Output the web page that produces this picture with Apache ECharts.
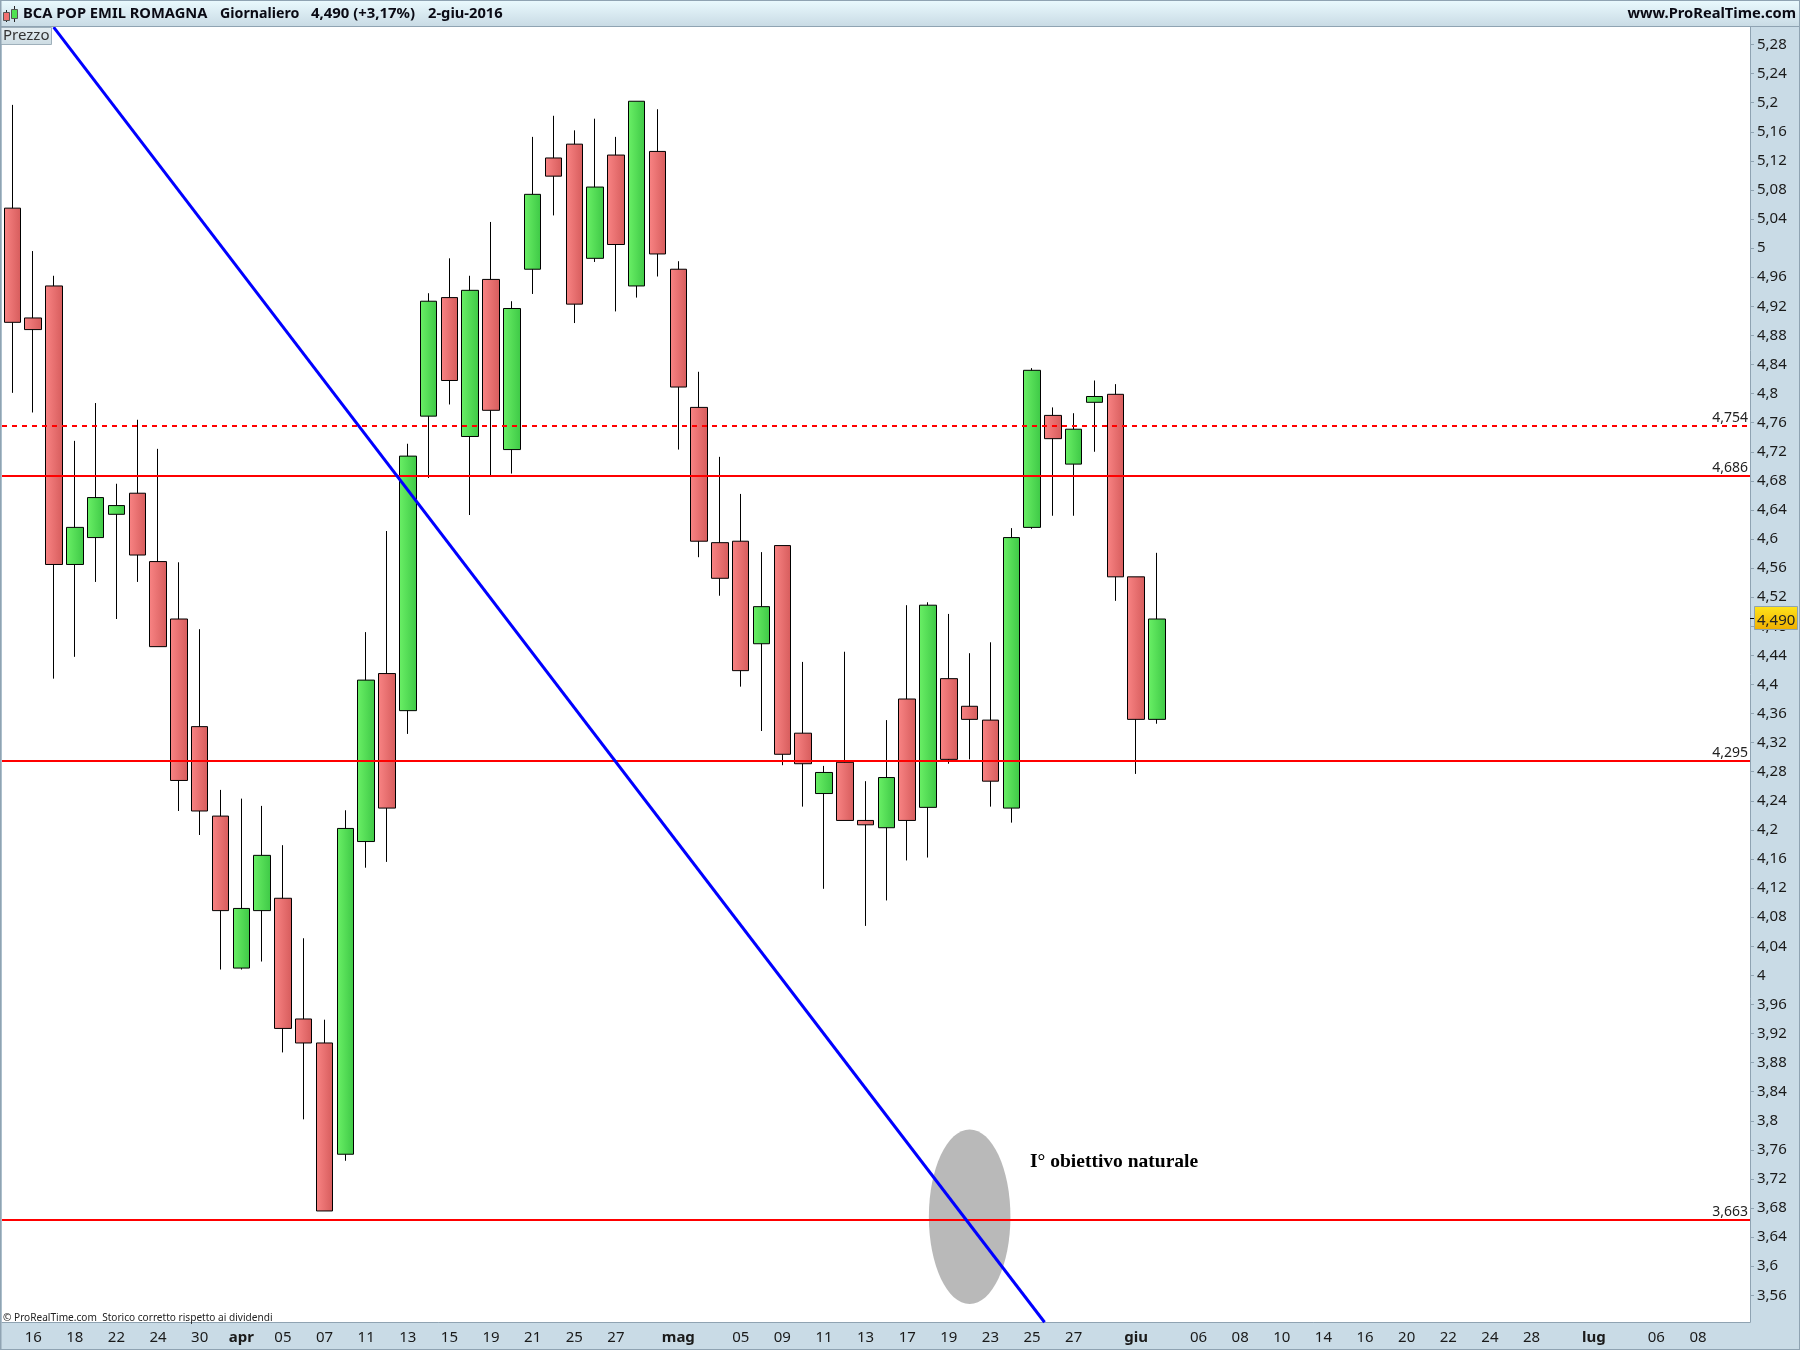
<!DOCTYPE html>
<html>
<head>
<meta charset="utf-8">
<title>BCA POP EMIL ROMAGNA</title>
<script src="https://cdn.jsdelivr.net/npm/echarts@6/dist/echarts.min.js"></script>
<style>
	html, body { margin: 0; padding: 0; background: #c9dbe6; }
	#chart { width: 1800px; height: 1350px; }
</style>
</head>
<body>
<div id="chart"></div>
<script>
	// daily candles
	const opens = [5.055, 4.904, 4.948, 4.565, 4.602, 4.634, 4.663, 4.569, 4.490, 4.342,
		4.219, 4.010, 4.089, 4.106, 3.940, 3.907, 3.754, 4.184, 4.415, 4.364,
		4.769, 4.932, 4.741, 4.957, 4.723, 4.971, 5.124, 5.143, 4.986, 5.128,
		4.948, 5.133, 4.971, 4.781, 4.595, 4.597, 4.456, 4.591, 4.333, 4.250,
		4.293, 4.213, 4.203, 4.380, 4.231, 4.408, 4.370, 4.351, 4.230, 4.616,
		4.770, 4.703, 4.788, 4.799, 4.548, 4.352]
	const closes = [4.898, 4.888, 4.565, 4.616, 4.657, 4.646, 4.578, 4.452, 4.268, 4.226,
		4.089, 4.092, 4.165, 3.927, 3.907, 3.676, 4.202, 4.406, 4.230, 4.714,
		4.927, 4.818, 4.942, 4.777, 4.917, 5.074, 5.099, 4.923, 5.084, 5.005,
		5.202, 4.992, 4.809, 4.597, 4.546, 4.419, 4.507, 4.304, 4.291, 4.279,
		4.213, 4.207, 4.272, 4.213, 4.509, 4.297, 4.352, 4.267, 4.602, 4.832,
		4.738, 4.751, 4.796, 4.548, 4.352, 4.490]
	const lows = [4.801, 4.774, 4.408, 4.438, 4.541, 4.490, 4.541, 4.452, 4.226, 4.193,
		4.008, 4.008, 4.019, 3.894, 3.802, 3.676, 3.745, 4.148, 4.156, 4.332,
		4.684, 4.785, 4.633, 4.688, 4.690, 4.937, 5.045, 4.897, 4.981, 4.913,
		4.932, 4.961, 4.723, 4.575, 4.522, 4.397, 4.336, 4.289, 4.232, 4.119,
		4.213, 4.068, 4.103, 4.158, 4.162, 4.291, 4.297, 4.232, 4.210, 4.614,
		4.632, 4.632, 4.720, 4.515, 4.277, 4.346]
	const highs = [5.197, 4.996, 4.962, 4.735, 4.787, 4.676, 4.764, 4.724, 4.568, 4.476,
		4.255, 4.243, 4.233, 4.179, 4.051, 3.939, 4.227, 4.472, 4.611, 4.731,
		4.938, 4.986, 4.962, 5.036, 4.927, 5.153, 5.182, 5.162, 5.178, 5.153,
		5.202, 5.191, 4.982, 4.830, 4.713, 4.662, 4.582, 4.591, 4.431, 4.288,
		4.445, 4.267, 4.351, 4.509, 4.513, 4.497, 4.443, 4.458, 4.615, 4.835,
		4.781, 4.773, 4.818, 4.813, 4.548, 4.581]

	// time axis: bar index of each label (the axis runs on past the last candle)
	const barSlots = 84
	const xTickBars = [1, 3, 5, 7, 9, 11, 13, 15, 17, 19, 21, 23, 25, 27, 29, 32, 35, 37, 39, 41, 43, 45, 47, 49, 51,
		54, 57, 59, 61, 63, 65, 67, 69, 71, 73, 76, 79, 81]
	const xTickLabels = ['16', '18', '22', '24', '30', 'apr', '05', '07', '11', '13', '15', '19', '21', '25', '27', 'mag',
		'05', '09', '11', '13', '17', '19', '23', '25', '27', 'giu', '06', '08', '10', '14', '16', '20', '22', '24', '28',
		'lug', '06', '08']
	const monthLabels = ['apr', 'mag', 'giu', 'lug']

	const yTicks = [5.28, 5.24, 5.2, 5.16, 5.12, 5.08, 5.04, 5, 4.96, 4.92, 4.88, 4.84, 4.8, 4.76, 4.72, 4.68, 4.64, 4.6,
		4.56, 4.52, 4.48, 4.44, 4.4, 4.36, 4.32, 4.28, 4.24, 4.2, 4.16, 4.12, 4.08, 4.04, 4, 3.96, 3.92, 3.88, 3.84, 3.8,
		3.76, 3.72, 3.68, 3.64, 3.6, 3.56]

	// horizontal levels and the drawn trend line
	const levelPrices = [4.756, 4.687, 4.295, 3.664]
	const levelTexts = ['4,754', '4,686', '4,295', '3,663']
	const levelDashed = [true, false, false, false]
	const trendBars = [1.98, 49.6]
	const trendPrices = [5.304, 3.523]

	// grey target ellipse: centre bar, centre price, half width in bars, half height in price
	const targetEllipse = [46.0, 3.668, 1.96, 0.12]

	const AXIS_BG = '#c9dbe6'
	const EDGE = '#8fa3b2'
	const UI_FONT = '"Noto Sans", sans-serif'

	const categories = []
	for (let i = 0; i < barSlots; i++) {
		const k = xTickBars.indexOf(i)
		categories.push(k >= 0 ? xTickLabels[k] : '')
	}
	const candles = opens.map((o, i) => [o, closes[i], lows[i], highs[i]])
	const hasTick = (i) => xTickBars.indexOf(i) >= 0

	const bodyGreen = new echarts.graphic.LinearGradient(0, 0, 1, 0, [
		{ offset: 0, color: '#6af066' }, { offset: 1, color: '#3ec846' }
	])
	const bodyRed = new echarts.graphic.LinearGradient(0, 0, 1, 0, [
		{ offset: 0, color: '#f98484' }, { offset: 1, color: '#d65c5c' }
	])

	function label(text, x, y, size, weight, align, color, family) {
		return {
			type: 'text', x: x, y: y, z: 100, silent: true,
			style: {
				text: text, fontSize: size, fontWeight: weight || 'normal', fontFamily: family || UI_FONT,
				fill: color || '#0a0a14', align: align || 'left', verticalAlign: 'middle'
			}
		}
	}

	function box(x, y, w, h, fill, stroke) {
		return {
			type: 'rect', x: x, y: y, z: 90, silent: true,
			shape: { x: 0, y: 0, width: w, height: h },
			style: { fill: fill, stroke: stroke || null, lineWidth: stroke ? 1 : 0 }
		}
	}

	const vertical = (a, b) => new echarts.graphic.LinearGradient(0, 0, 0, 1, [
		{ offset: 0, color: a }, { offset: 1, color: b }
	])

	const furniture = [
		// title bar
		box(0, 0, 1800, 27, vertical('#eafafe', '#c8dae4')),
		box(0, 26, 1800, 1, EDGE),
		box(0, 0, 1800, 1, EDGE),
		// small candle icon
		box(6, 10, 1, 12, '#222'),
		box(3.5, 12.5, 6, 8, '#f07070', '#555'),
		box(14, 6, 1, 16, '#222'),
		box(11.5, 9.5, 6, 9, '#50e050', '#555'),
		label('BCA POP EMIL ROMAGNA', 23, 13.5, 14.7, 'bold'),
		label('Giornaliero', 220, 13.5, 14.2, 'bold'),
		label('4,490 (+3,17%)', 311, 13.5, 14.9, 'bold'),
		label('2-giu-2016', 428, 13.5, 14.7, 'bold'),
		label('www.ProRealTime.com', 1796, 13.5, 14.7, 'bold', 'right'),
		// tab in the corner of the price panel
		box(0.5, 27.5, 51, 17, vertical('#e6eff3', '#ccdbe2'), '#9fb0bb'),
		label('Prezzo', 3, 36, 15, 'normal', 'left', '#333'),
		// frame
		box(0, 0, 1.5, 1350, EDGE),
		box(0, 1349, 1800, 1, EDGE),
		box(1799, 0, 1, 1350, EDGE),
		// last price tag
		box(1750, 618, 5, 1, '#000'),
		box(1754.5, 606.5, 43, 23, vertical('#ffe41c', '#eeae00'), EDGE),
		label('4,490', 1757, 621, 15, 'normal', 'left', '#222'),
		// notes on the chart
		label('I° obiettivo naturale', 1030, 1162, 19.5, 'bold', 'left', '#000', '"Liberation Serif", serif'),
		label('© ProRealTime.com  Storico corretto rispetto ai dividendi', 3, 1318, 10.1, 'normal', 'left', '#222')
	]

	const chartInstance = echarts.init(document.getElementById('chart'), null, { renderer: 'canvas' })

	const option = {
		animation: false,
		backgroundColor: AXIS_BG,
		graphic: { elements: furniture },
		grid: {
			left: 2, right: 50, top: 27, bottom: 28,
			show: true, backgroundColor: '#fff', borderWidth: 0
		},
		xAxis: [{
			type: 'category',
			data: categories,
			boundaryGap: true,
			axisLine: { onZero: false, lineStyle: { color: EDGE, width: 1 } },
			axisTick: {
				alignWithLabel: true, length: 4, interval: hasTick,
				lineStyle: { color: EDGE }
			},
			axisLabel: {
				interval: hasTick, margin: 8, hideOverlap: false,
				fontSize: 15, fontFamily: UI_FONT, color: '#1a1a1a',
				formatter: (v) => monthLabels.indexOf(v) >= 0 ? '{m|' + v + '}' : v,
				rich: { m: { fontSize: 15, fontWeight: 'bold', fontFamily: UI_FONT, color: '#1a1a1a' } }
			},
			splitLine: { show: false }
		}, {
			// plain numeric copy of the bar axis, for the drawn objects
			type: 'value',
			min: -0.5,
			max: barSlots - 0.5,
			show: false
		}],
		yAxis: {
			type: 'value',
			position: 'right',
			min: 3.5233,
			max: 5.3041,
			scale: true,
			axisLine: { show: true, onZero: false, lineStyle: { color: EDGE, width: 1 } },
			axisTick: { show: true, length: 4, customValues: yTicks, lineStyle: { color: EDGE } },
			axisLabel: {
				customValues: yTicks, margin: 7,
				fontSize: 15, fontFamily: UI_FONT, color: '#1a1a1a',
				formatter: (v) => String(v).replace('.', ',')
			},
			splitLine: { show: false }
		},
		series: [{
			type: 'custom',
			name: 'obiettivo',
			xAxisIndex: 1,
			z: 1,
			silent: true,
			clip: true,
			data: [targetEllipse],
			renderItem: (params, api) => {
				const c = api.coord([api.value(0), api.value(1)])
				const s = api.size([api.value(2), api.value(3)])
				return {
					type: 'ellipse',
					shape: { cx: c[0], cy: c[1], rx: s[0], ry: s[1] },
					style: { fill: '#b9b9b9' }
				}
			}
		}, {
			type: 'candlestick',
			name: 'BCA POP EMIL ROMAGNA',
			z: 2,
			barWidth: 17,
			silent: true,
			data: candles,
			itemStyle: {
				color: bodyGreen,
				color0: bodyRed,
				borderColor: '#000',
				borderColor0: '#000',
				borderWidth: 1
			},
			markLine: {
				silent: true,
				symbol: 'none',
				z: 5,
				animation: false,
				precision: 3,
				data: levelPrices.map((p, i) => ({
					yAxis: p,
					lineStyle: { color: '#ff0000', width: 2, type: levelDashed[i] ? [5, 5] : 'solid' },
					label: {
						show: true, position: 'insideEndTop', distance: [2, 1], formatter: levelTexts[i],
						fontSize: 14, fontFamily: UI_FONT, color: '#222'
					}
				}))
			}
		}, {
			type: 'line',
			name: 'trend',
			xAxisIndex: 1,
			z: 6,
			silent: true,
			showSymbol: false,
			data: trendBars.map((b, i) => [b, trendPrices[i]]),
			lineStyle: { color: '#0000ff', width: 3 }
		}]
	}

	chartInstance.setOption(option)
</script>
</body>
</html>
